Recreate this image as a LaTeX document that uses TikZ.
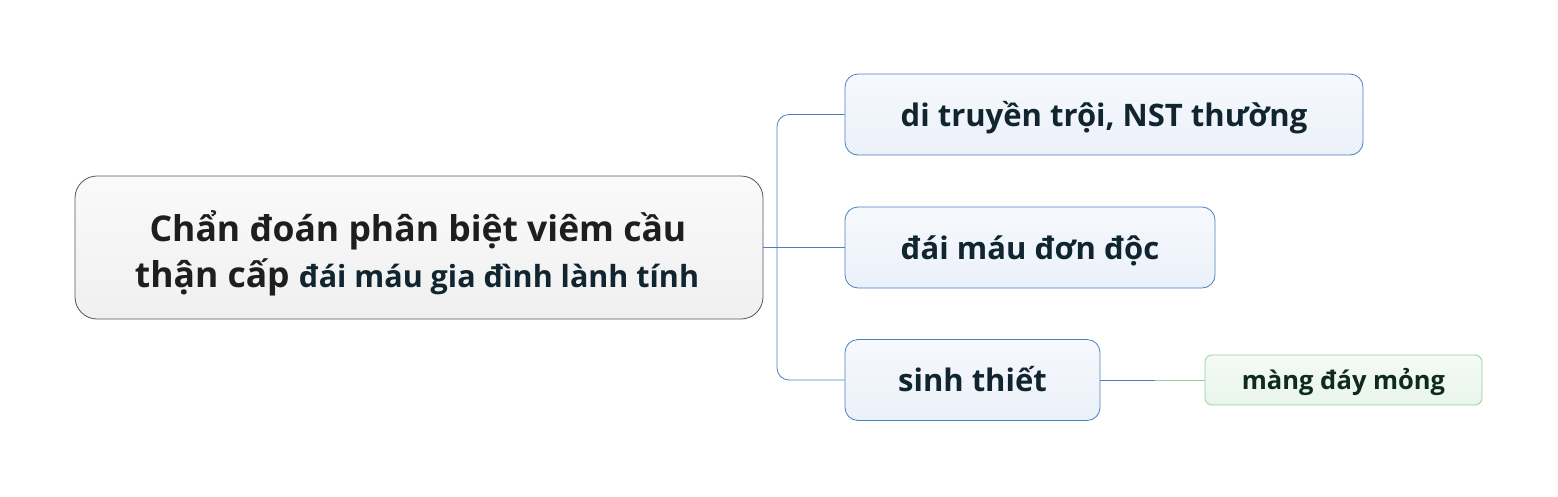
\documentclass[tikz,border=0pt]{standalone}
\usepackage{fontspec}
\setmainfont{Open Sans}[BoldFont={* Bold}]
\definecolor{txt}{HTML}{10252F}
\definecolor{leaftxt}{HTML}{0F2A20}
\definecolor{blueline}{HTML}{4A7FC1}
\definecolor{greenline}{HTML}{93D1A2}
\definecolor{rootline}{HTML}{555555}
\definecolor{roottxt}{HTML}{1E1E1E}
\begin{document}
\begin{tikzpicture}[x=1pt,y=-1pt,
  rootbox/.style={draw=rootline,line width=0.8pt,rounded corners=22pt,top color=white!98!black,bottom color=white!94!black,minimum width=688pt,minimum height=143pt,inner sep=0pt},
  roottext/.style={anchor=base,inner sep=0pt,font=\bfseries\fontsize{35.5}{40}\selectfont,text=roottxt},
  branchbox/.style={draw=blueline,line width=0.8pt,rounded corners=13pt,top color={rgb,255:red,246;green,249;blue,253},bottom color={rgb,255:red,235;green,241;blue,249},minimum height=81pt,inner sep=0pt,text height=23pt,text depth=0pt,font=\bfseries\fontsize{31}{36}\selectfont,text=txt},
  leafbox/.style={draw=greenline,line width=0.8pt,rounded corners=7pt,top color={rgb,255:red,244;green,250;blue,245},bottom color={rgb,255:red,233;green,245;blue,235},minimum height=50pt,minimum width=277pt,inner sep=0pt,text height=18pt,text depth=0pt,font=\bfseries\fontsize{25.5}{30}\selectfont,text=leaftxt},
  conn/.style={draw=blueline,line width=0.8pt},
  gconn/.style={draw=greenline,line width=0.8pt}]
\useasboundingbox (0,0) rectangle (1558,496);
\node[rootbox] (root) at (419,247.5) {};
\node[roottext] (r1) at (418,241) {Chẩn đoán phân biệt viêm cầu};
\node[roottext] (r2) at (417,287) {thận cấp \textcolor{txt}{\fontsize{30.5}{34}\selectfont đái máu gia đình lành tính}};
\node[branchbox,minimum width=518pt] (b1) at (1104,114.5) {di truyền trội, NST thường};
\node[branchbox,minimum width=370pt] (b2) at (1030,247.5) {đái máu đơn độc};
\node[branchbox,minimum width=255pt] (b3) at (972.5,380) {sinh thiết};
\node[leafbox] (l1) at (1343.5,380) {màng đáy mỏng};
\coordinate (j) at (1155,380);
\draw[conn] (root.east |- b2.west) -- (b2.west);
\draw[conn,rounded corners=12pt] (b1.west) -- (777,114.5) -- (777,380) -- (b3.west);
\draw[conn] (b3.east) -- (j);
\draw[gconn] (j) -- (l1.west);
\end{tikzpicture}
\end{document}
